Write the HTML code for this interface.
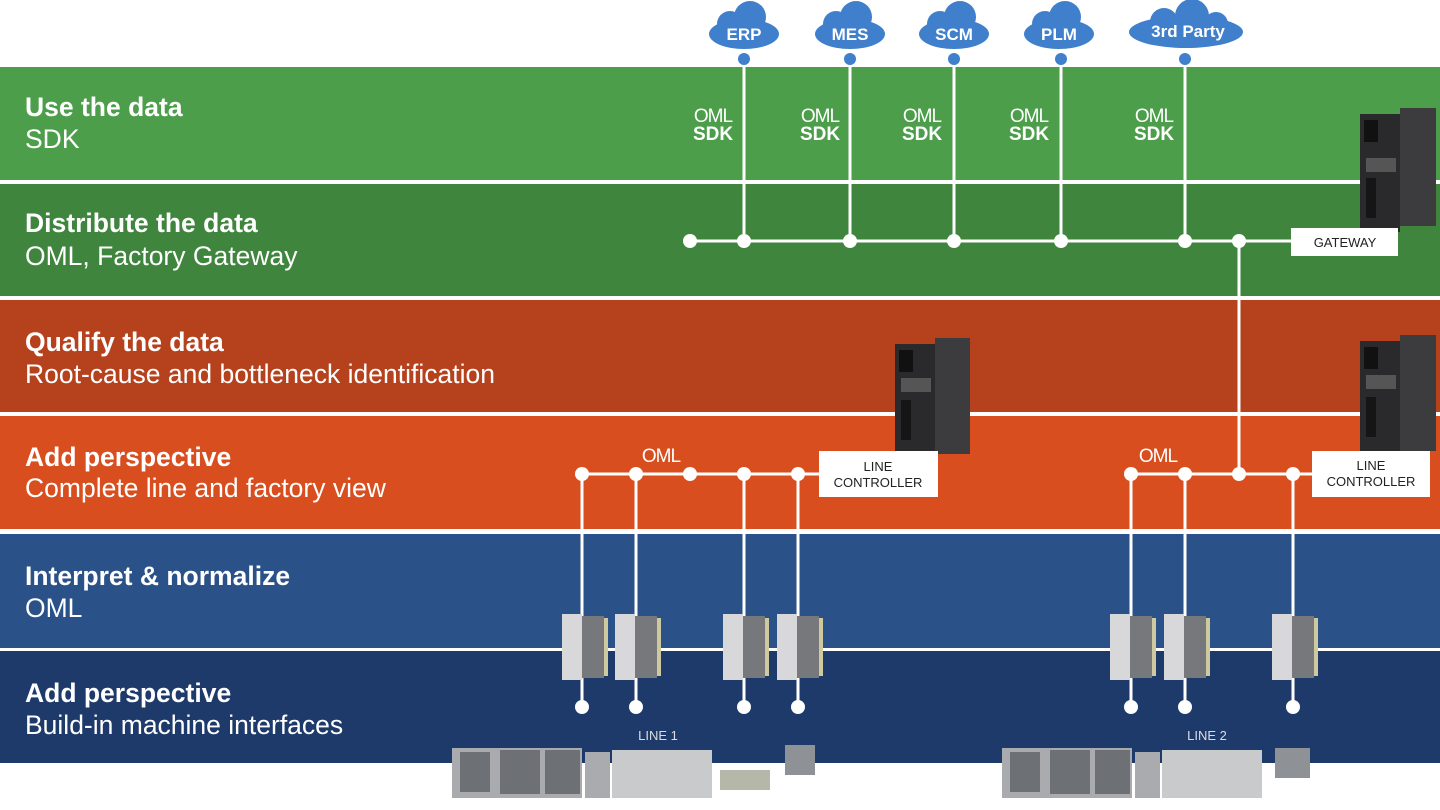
<!DOCTYPE html>
<html><head><meta charset="utf-8"><style>
html,body{margin:0;padding:0;background:#fff;}
svg{display:block;font-family:"Liberation Sans",Arial,sans-serif;}
.t{font-weight:bold;font-size:26.5px;fill:#fff}
.s{font-size:26.5px;fill:#fff}
.cl{font-weight:bold;font-size:17px;fill:#fff;text-anchor:middle}
.oml{font-size:19px;fill:#fff;text-anchor:middle;letter-spacing:-1px}
.sdk{font-size:19px;font-weight:bold;fill:#fff;text-anchor:middle}
.lb{font-size:13px;fill:#222;text-anchor:middle}
</style></head><body>
<svg width="1440" height="810" viewBox="0 0 1440 810" xmlns="http://www.w3.org/2000/svg">
<rect x="0" y="0" width="1440" height="810" fill="#fff"/>
<rect x="0" y="67" width="1440" height="113" fill="#4c9e4b"/>
<rect x="0" y="184" width="1440" height="112" fill="#3f853e"/>
<rect x="0" y="300" width="1440" height="112" fill="#b6411d"/>
<rect x="0" y="416" width="1440" height="113" fill="#d84e1f"/>
<rect x="0" y="534" width="1440" height="114" fill="#2a5188"/>
<rect x="0" y="651" width="1440" height="112" fill="#1e3a6b"/>

<text class="t" x="25" y="116">Use the data</text><text class="s" x="25" y="148">SDK</text>
<text class="t" x="25" y="232">Distribute the data</text><text class="s" x="25" y="265">OML, Factory Gateway</text>
<text class="t" x="25" y="351">Qualify the data</text><text class="s" x="25" y="383">Root-cause and bottleneck identification</text>
<text class="t" x="25" y="466">Add perspective</text><text class="s" x="25" y="497">Complete line and factory view</text>
<text class="t" x="25" y="585">Interpret &amp; normalize</text><text class="s" x="25" y="617">OML</text>
<text class="t" x="25" y="702">Add perspective</text><text class="s" x="25" y="734">Build-in machine interfaces</text>

<!-- clouds -->
<g fill="#3f7fcc">
<g transform="translate(744,0)"><ellipse cx="0" cy="34" rx="35" ry="15"/><circle cx="-14" cy="24" r="13"/><circle cx="6" cy="17" r="16"/></g>
<g transform="translate(850,0)"><ellipse cx="0" cy="34" rx="35" ry="15"/><circle cx="-14" cy="24" r="13"/><circle cx="6" cy="17" r="16"/></g>
<g transform="translate(954,0)"><ellipse cx="0" cy="34" rx="35" ry="15"/><circle cx="-14" cy="24" r="13"/><circle cx="6" cy="17" r="16"/></g>
<g transform="translate(1059,0)"><ellipse cx="0" cy="34" rx="35" ry="15"/><circle cx="-14" cy="24" r="13"/><circle cx="6" cy="17" r="16"/></g>
<g transform="translate(1186,0)"><ellipse cx="0" cy="32" rx="57" ry="16"/><circle cx="-22" cy="22" r="14"/><circle cx="6" cy="16" r="17"/><circle cx="30" cy="24" r="12"/></g>
</g>
<text class="cl" x="744" y="40">ERP</text><text class="cl" x="850" y="40">MES</text><text class="cl" x="954" y="40">SCM</text><text class="cl" x="1059" y="40">PLM</text><text class="cl" x="1188" y="37">3rd Party</text>
<g fill="#3f7fcc"><circle cx="744" cy="59" r="6"/><circle cx="850" cy="59" r="6"/><circle cx="954" cy="59" r="6"/><circle cx="1061" cy="59" r="6"/><circle cx="1185" cy="59" r="6"/></g>

<!-- SDK labels -->
<g><text class="oml" x="713" y="122">OML</text><text class="sdk" x="713" y="140">SDK</text>
<text class="oml" x="820" y="122">OML</text><text class="sdk" x="820" y="140">SDK</text>
<text class="oml" x="922" y="122">OML</text><text class="sdk" x="922" y="140">SDK</text>
<text class="oml" x="1029" y="122">OML</text><text class="sdk" x="1029" y="140">SDK</text>
<text class="oml" x="1154" y="122">OML</text><text class="sdk" x="1154" y="140">SDK</text></g>

<!-- lines -->
<g stroke="#fff" stroke-width="3" fill="none">
<path d="M744 65V241M850 65V241M954 65V241M1061 65V241M1185 65V241M690 241H1292M1239 241V474"/>
<path d="M582 474H820M582 474V707M636 474V707M744 474V707M798 474V707"/>
<path d="M1131 474H1313M1131 474V707M1185 474V707M1293 474V707"/>
</g>
<g fill="#fff">
<circle cx="690" cy="241" r="7"/><circle cx="744" cy="241" r="7"/><circle cx="850" cy="241" r="7"/><circle cx="954" cy="241" r="7"/><circle cx="1061" cy="241" r="7"/><circle cx="1185" cy="241" r="7"/><circle cx="1239" cy="241" r="7"/>
<circle cx="582" cy="474" r="7"/><circle cx="636" cy="474" r="7"/><circle cx="690" cy="474" r="7"/><circle cx="744" cy="474" r="7"/><circle cx="798" cy="474" r="7"/>
<circle cx="1131" cy="474" r="7"/><circle cx="1185" cy="474" r="7"/><circle cx="1239" cy="474" r="7"/><circle cx="1293" cy="474" r="7"/>
<circle cx="582" cy="707" r="7"/><circle cx="636" cy="707" r="7"/><circle cx="744" cy="707" r="7"/><circle cx="798" cy="707" r="7"/>
<circle cx="1131" cy="707" r="7"/><circle cx="1185" cy="707" r="7"/><circle cx="1293" cy="707" r="7"/>
</g>
<text class="oml" x="661" y="462">OML</text><text class="oml" x="1158" y="462">OML</text>

<!-- dark gateway devices -->
<g>
<g transform="translate(1360,108)"><rect x="0" y="6" width="40" height="118" fill="#2a2a2c"/><rect x="40" y="0" width="36" height="118" fill="#3c3c3e"/><rect x="4" y="12" width="14" height="22" fill="#111"/><rect x="6" y="50" width="30" height="14" fill="#555"/><rect x="6" y="70" width="10" height="40" fill="#151515"/></g>
<g transform="translate(895,338)"><rect x="0" y="6" width="40" height="116" fill="#2a2a2c"/><rect x="40" y="0" width="35" height="116" fill="#3c3c3e"/><rect x="4" y="12" width="14" height="22" fill="#111"/><rect x="6" y="40" width="30" height="14" fill="#555"/><rect x="6" y="62" width="10" height="40" fill="#151515"/></g>
<g transform="translate(1360,335)"><rect x="0" y="6" width="40" height="116" fill="#2a2a2c"/><rect x="40" y="0" width="36" height="116" fill="#3c3c3e"/><rect x="4" y="12" width="14" height="22" fill="#111"/><rect x="6" y="40" width="30" height="14" fill="#555"/><rect x="6" y="62" width="10" height="40" fill="#151515"/></g>
</g>
<rect x="1291" y="228" width="107" height="28" fill="#fff"/><text class="lb" x="1345" y="247">GATEWAY</text>
<rect x="819" y="451" width="119" height="46" fill="#fff"/><text class="lb" x="878" y="471">LINE</text><text class="lb" x="878" y="487">CONTROLLER</text>
<rect x="1312" y="451" width="118" height="46" fill="#fff"/><text class="lb" x="1371" y="470">LINE</text><text class="lb" x="1371" y="486">CONTROLLER</text>

<!-- small devices -->
<g>
<g transform="translate(562,614)"><rect width="20" height="66" fill="#d8d8da"/><rect x="20" y="2" width="22" height="62" fill="#77787b"/><rect x="42" y="4" width="4" height="58" fill="#cfc9a0"/></g>
<g transform="translate(615,614)"><rect width="20" height="66" fill="#d8d8da"/><rect x="20" y="2" width="22" height="62" fill="#77787b"/><rect x="42" y="4" width="4" height="58" fill="#cfc9a0"/></g>
<g transform="translate(723,614)"><rect width="20" height="66" fill="#d8d8da"/><rect x="20" y="2" width="22" height="62" fill="#77787b"/><rect x="42" y="4" width="4" height="58" fill="#cfc9a0"/></g>
<g transform="translate(777,614)"><rect width="20" height="66" fill="#d8d8da"/><rect x="20" y="2" width="22" height="62" fill="#77787b"/><rect x="42" y="4" width="4" height="58" fill="#cfc9a0"/></g>
<g transform="translate(1110,614)"><rect width="20" height="66" fill="#d8d8da"/><rect x="20" y="2" width="22" height="62" fill="#77787b"/><rect x="42" y="4" width="4" height="58" fill="#cfc9a0"/></g>
<g transform="translate(1164,614)"><rect width="20" height="66" fill="#d8d8da"/><rect x="20" y="2" width="22" height="62" fill="#77787b"/><rect x="42" y="4" width="4" height="58" fill="#cfc9a0"/></g>
<g transform="translate(1272,614)"><rect width="20" height="66" fill="#d8d8da"/><rect x="20" y="2" width="22" height="62" fill="#77787b"/><rect x="42" y="4" width="4" height="58" fill="#cfc9a0"/></g>
</g>

<!-- machines -->
<text x="658" y="740" font-size="13" fill="#ddd" text-anchor="middle">LINE 1</text>
<text x="1207" y="740" font-size="13" fill="#ddd" text-anchor="middle">LINE 2</text>
<g fill="#a9abae">
<rect x="452" y="748" width="130" height="50"/><rect x="585" y="752" width="25" height="46"/><rect x="612" y="750" width="100" height="48" fill="#c9cacc"/>
<rect x="720" y="770" width="50" height="20" fill="#b5b8a8"/><rect x="785" y="745" width="30" height="30" fill="#8e9195"/>
<rect x="1002" y="748" width="130" height="50"/><rect x="1135" y="752" width="25" height="46"/><rect x="1162" y="750" width="100" height="48" fill="#c9cacc"/>
<rect x="1275" y="748" width="35" height="30" fill="#8e9195"/>
</g>
<g fill="#6d7074"><rect x="460" y="752" width="30" height="40"/><rect x="500" y="750" width="40" height="44"/><rect x="545" y="750" width="35" height="44"/><rect x="1010" y="752" width="30" height="40"/><rect x="1050" y="750" width="40" height="44"/><rect x="1095" y="750" width="35" height="44"/></g>
</svg>
</body></html>
